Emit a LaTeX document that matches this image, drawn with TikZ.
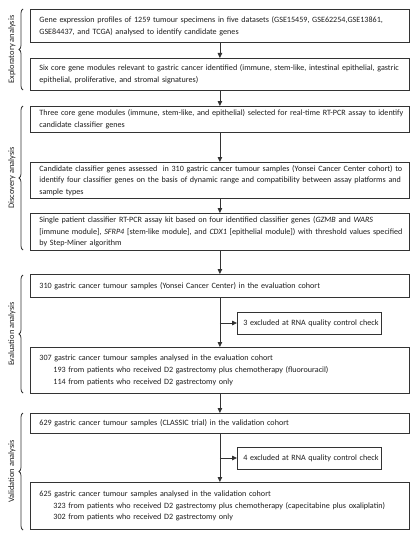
\documentclass[tikz,border=0pt]{standalone}
\usepackage{fontspec}
\setmainfont{Carlito}
\usetikzlibrary{decorations.pathreplacing,arrows.meta,calc}
\definecolor{boxcol}{HTML}{333333}
\definecolor{txtcol}{HTML}{1E1E1E}
\newcommand{\boxfont}{\fontsize{8.1}{11.7}\selectfont}
\newcommand{\ls}{\hspace*{9pt}}
\newcommand{\li}{\hspace*{23pt}}
\begin{document}
\begin{tikzpicture}[x=1pt,y=-1pt,
  box/.style={draw=boxcol, line width=0.8pt, text=txtcol, anchor=north west,
    minimum width=379pt, text width=379pt, inner xsep=0pt, inner ysep=1pt,
    align=left, font=\boxfont},
  exbox/.style={draw=boxcol, line width=0.8pt, text=txtcol, anchor=west,
    minimum width=144pt, text width=144pt, inner xsep=0pt, inner ysep=1pt,
    minimum height=22pt, align=left, font=\boxfont},
  arr/.style={draw=boxcol, line width=0.8pt, -{Triangle[length=5pt,width=4.5pt]}},
  brc/.style={draw=boxcol, line width=0.8pt, decorate,
    decoration={brace, amplitude=4pt}},
  phase/.style={rotate=90, text=txtcol, font=\fontsize{8.4}{10}\selectfont}]
\useasboundingbox[fill=white] (0,0) rectangle (418,535);

\node[box, minimum height=33pt] (b1) at (30,9) {\ls Gene expression profiles of 1259 tumour specimens in five datasets (GSE15459, GSE62254,GSE13861,\\ \ls GSE84437, and TCGA) analysed to identify candidate genes};
\node[box, minimum height=32pt] (b2) at (30,58) {\ls Six core gene modules relevant to gastric cancer identified (immune, stem-like, intestinal epithelial, gastric\\ \ls epithelial, proliferative, and stromal signatures)};
\node[box, minimum height=26pt] (b3) at (30,106) {\ls Three core gene modules (immune, stem-like, and epithelial) selected for real-time RT-PCR assay to identify\\ \ls candidate classifier genes};
\node[box, minimum height=36pt] (b4) at (30,162) {\ls Candidate classifier genes assessed\ \ in 310 gastric cancer tumour samples (Yonsei Cancer Center cohort) to\\ \ls identify four classifier genes on the basis of dynamic range and compatibility between assay platforms and\\ \ls sample types};
\node[box, minimum height=37pt] (b5) at (30,213) {\ls Single patient classifier RT-PCR assay kit based on four identified classifier genes (\textit{GZMB} and \textit{WARS}\\ \ls{}[immune module], \textit{SFRP4} [stem-like module], and \textit{CDX1} [epithelial module]) with threshold values specified\\ \ls by Step-Miner algorithm};
\node[box, minimum height=23pt] (b6) at (30,274) {\ls 310 gastric cancer tumour samples (Yonsei Cancer Center) in the evaluation cohort};
\node[exbox] (e1) at (237,323) {\hspace*{6pt}3 excluded at RNA quality control check};
\node[box, minimum height=46pt] (b7) at (30,347) {\ls 307 gastric cancer tumour samples analysed in the evaluation cohort\\
\li 193 from patients who received D2 gastrectomy plus chemotherapy (fluorouracil)\\
\li 114 from patients who received D2 gastrectomy only};
\node[box, minimum height=20pt] (b8) at (30,413) {\ls 629 gastric cancer tumour samples (CLASSIC trial) in the validation cohort};
\node[exbox] (e2) at (237,458) {\hspace*{6pt}4 excluded at RNA quality control check};
\node[box, minimum height=47pt] (b9) at (30,482) {\ls 625 gastric cancer tumour samples analysed in the validation cohort\\
\li 323 from patients who received D2 gastrectomy plus chemotherapy (capecitabine plus oxaliplatin)\\
\li 302 from patients who received D2 gastrectomy only};

\draw[arr] (b1.south) -- (b2.north);
\draw[arr] (b2.south) -- (b3.north);
\draw[arr] (b3.south) -- (b4.north);
\draw[arr] (b4.south) -- (b5.north);
\draw[arr] (b5.south) -- (b6.north);
\draw[arr] (b6.south) -- (b7.north);
\draw[arr] (b7.south) -- (b8.north);
\draw[arr] (b8.south) -- (b9.north);
\coordinate (j1) at (b6.south |- e1.west);
\coordinate (j2) at (b8.south |- e2.west);
\draw[arr] (j1) -- (e1.west);
\draw[arr] (j2) -- (e2.west);

\coordinate (p1a) at (23,90); \coordinate (p1b) at (23,9);
\coordinate (p2a) at (23,250); \coordinate (p2b) at (23,106);
\coordinate (p3a) at (23,393); \coordinate (p3b) at (23,275);
\coordinate (p4a) at (23,530); \coordinate (p4b) at (23,413);
\draw[brc] (p1a) -- (p1b);
\draw[brc] (p2a) -- (p2b);
\draw[brc] (p3a) -- (p3b);
\draw[brc] (p4a) -- (p4b);
\node[phase] (l1) at ($(p1a)!0.5!(p1b)+(-11,0)$) {Exploratory analysis};
\node[phase] (l2) at ($(p2a)!0.5!(p2b)+(-11,0)$) {Discovery analysis};
\node[phase] (l3) at ($(p3a)!0.5!(p3b)+(-11,0)$) {Evaluation analysis};
\node[phase] (l4) at ($(p4a)!0.5!(p4b)+(-11,0)$) {Validation analysis};
\end{tikzpicture}
\end{document}
